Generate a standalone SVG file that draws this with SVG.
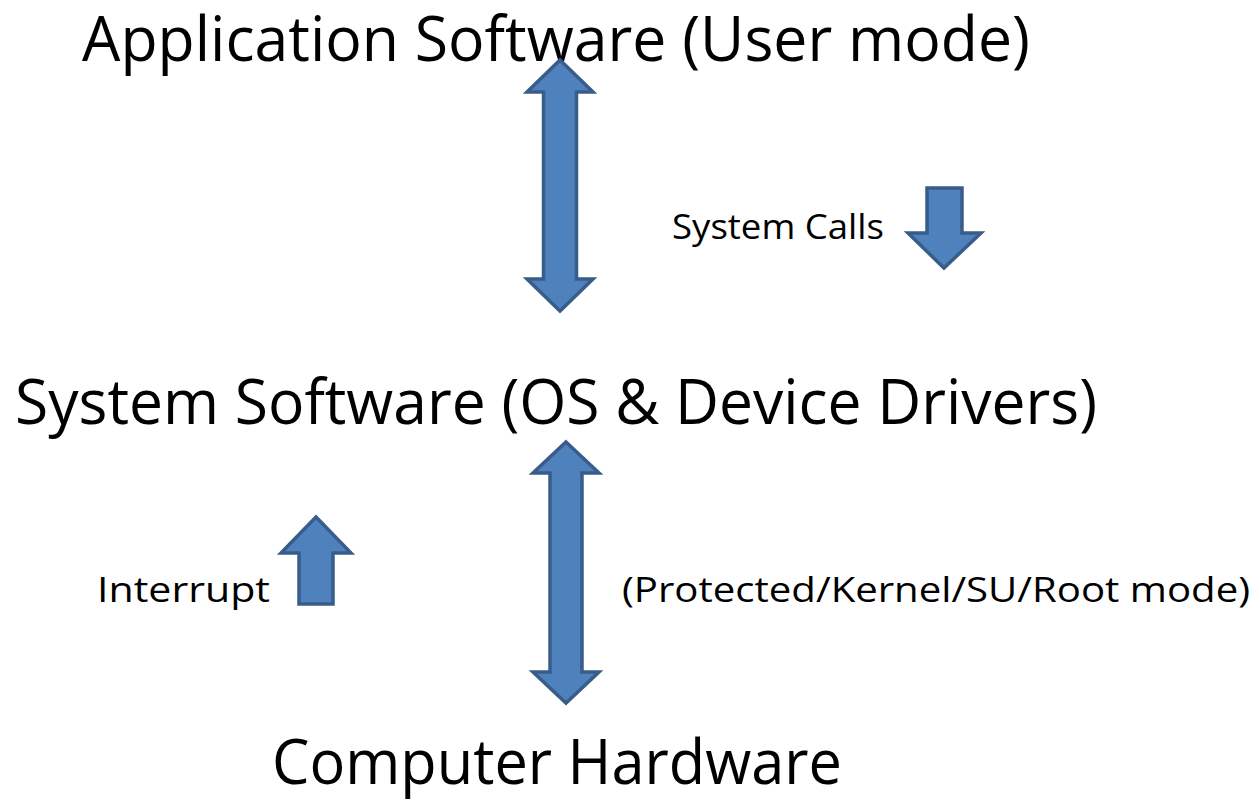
<svg xmlns="http://www.w3.org/2000/svg" width="1258" height="799" viewBox="0 0 1258 799">
  <style>
    .big { font-family: "Open Sans", "Noto Sans", sans-serif; font-size: 62px; fill: #000; }
    .small { font-family: "Open Sans", "Noto Sans", sans-serif; font-size: 35px; fill: #000; }
    .arrow { fill: #4F81BD; stroke: #385D8A; stroke-width: 3.5; stroke-linejoin: miter; }
  </style>
  <rect width="1258" height="799" fill="#fff"/>

  <g id="application-software">
    <text class="big" x="82" y="61" textLength="948" lengthAdjust="spacingAndGlyphs">Application Software (User mode)</text>
  </g>
  <g id="system-software">
    <text class="big" x="15" y="424" textLength="1082" lengthAdjust="spacingAndGlyphs">System Software (OS &amp; Device Drivers)</text>
  </g>
  <g id="computer-hardware">
    <text class="big" x="272" y="784" textLength="570" lengthAdjust="spacingAndGlyphs">Computer Hardware</text>
  </g>

  <g id="connectors">
    <!-- application <-> system software -->
    <path class="arrow" d="M560,60 L593,92 L576.5,92 L576.5,279 L593,279 L560,311 L527,279 L543.5,279 L543.5,92 L527,92 Z"/>
    <!-- system software <-> hardware -->
    <path class="arrow" d="M566,442 L599,473 L582,473 L582,672 L599,672 L566,703 L533,672 L550,672 L550,473 L533,473 Z"/>
    <!-- system calls (down) -->
    <path class="arrow" d="M927,188 L962,188 L962,233 L981,233 L944,268 L908,233 L927,233 Z"/>
    <!-- interrupt (up) -->
    <path class="arrow" d="M316,517 L351,553 L333,553 L333,604 L299,604 L299,553 L281,553 Z"/>
  </g>

  <g id="labels">
    <text class="small" x="672" y="239" textLength="212" lengthAdjust="spacingAndGlyphs">System Calls</text>
    <text class="small" x="97" y="602" textLength="173" lengthAdjust="spacingAndGlyphs">Interrupt</text>
    <text class="small" x="622" y="602" textLength="628" lengthAdjust="spacingAndGlyphs">(Protected/Kernel/SU/Root mode)</text>
  </g>
</svg>
